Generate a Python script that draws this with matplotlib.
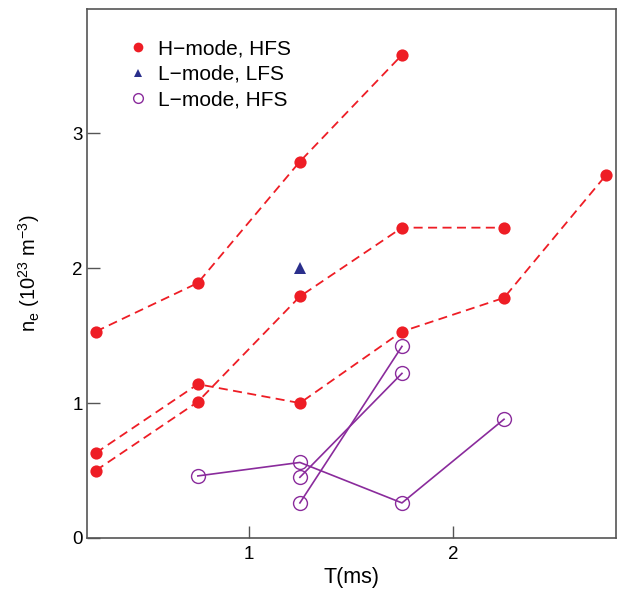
import matplotlib
matplotlib.use("Agg")
import matplotlib.pyplot as plt

plt.rcParams['font.family'] = ['Liberation Sans', 'DejaVu Sans']
plt.rcParams['mathtext.fontset'] = 'custom'
plt.rcParams['mathtext.rm'] = 'Liberation Sans'
plt.rcParams['mathtext.it'] = 'Liberation Sans'

# H-mode, HFS series (dashed red)
h1_t = [0.25, 0.75, 1.25, 1.75]
h1_n = [1.53, 1.89, 2.79, 3.58]
h2_t = [0.25, 0.75, 1.25, 1.75, 2.25, 2.75]
h2_n = [0.63, 1.14, 1.00, 1.53, 1.78, 2.69]
h3_t = [0.25, 0.75, 1.25, 1.75, 2.25]
h3_n = [0.50, 1.01, 1.79, 2.30, 2.30]

# L-mode, LFS
lf_t = [1.25]
lf_n = [2.00]

# L-mode, HFS series (solid purple)
l1_t = [0.75, 1.25, 1.75, 2.25]
l1_n = [0.46, 0.56, 0.26, 0.88]
l2_t = [1.25, 1.75]
l2_n = [0.45, 1.22]
l3_t = [1.25, 1.75]
l3_n = [0.26, 1.42]

red = '#ee1d25'
purple = '#8a2b9c'
navy = '#2a2f8c'

fig = plt.figure(figsize=(6.2, 5.89), dpi=100)
ax = fig.add_axes([0.140, 0.0866, 0.854, 0.898])

for t, n in [(h1_t, h1_n), (h2_t, h2_n), (h3_t, h3_n)]:
    ax.plot(t, n, color=red, linestyle=(0, (5, 3)), linewidth=1.3,
            marker='o', markersize=8.8, markeredgewidth=0)

for t, n in [(l1_t, l1_n), (l2_t, l2_n), (l3_t, l3_n)]:
    ax.plot(t, n, color=purple, linewidth=1.2, marker='o', markersize=10,
            markerfacecolor='none', markeredgecolor=purple, markeredgewidth=1.0)

ax.plot(lf_t, lf_n, linestyle='none', marker='^', color=navy, markersize=8.5,
        markeredgewidth=0)

# legend handles
hh, = ax.plot([], [], linestyle='none', marker='o', color=red, markersize=7,
              markeredgewidth=0, label='H\u2212mode, HFS')
hl, = ax.plot([], [], linestyle='none', marker='^', color=navy, markersize=5.5,
              markeredgewidth=0, label='L\u2212mode, LFS')
hc, = ax.plot([], [], linestyle='none', marker='o', markerfacecolor='none',
              markeredgecolor=purple, markersize=7, markeredgewidth=1.0,
              label='L\u2212mode, HFS')
ax.legend(handles=[hh, hl, hc], loc='upper left', bbox_to_anchor=(0.077, 0.942),
          frameon=False, fontsize=15, handlelength=1.0, handletextpad=0.45,
          labelspacing=0.3, borderaxespad=0, borderpad=0)

ax.set_xlim(0.206, 2.80)
ax.set_ylim(0, 3.92)
ax.set_xticks([1, 2])
ax.set_yticks([0, 1, 2, 3])
ax.tick_params(direction='in', length=9, width=1, color='#555555',
               labelsize=13.5)
ax.tick_params(axis='x', pad=6)
ax.tick_params(axis='y', pad=3)
for s in ax.spines.values():
    s.set_color('#555555')
    s.set_linewidth(1.2)

ax.set_xlabel('T(ms)', fontsize=15.5, labelpad=3)
ax.set_ylabel(r'n$_\mathregular{e}$ (10$^\mathregular{23}$ m$^\mathregular{-3}$)',
              fontsize=14.5, labelpad=22)

fig.savefig('out.png', dpi=100)
